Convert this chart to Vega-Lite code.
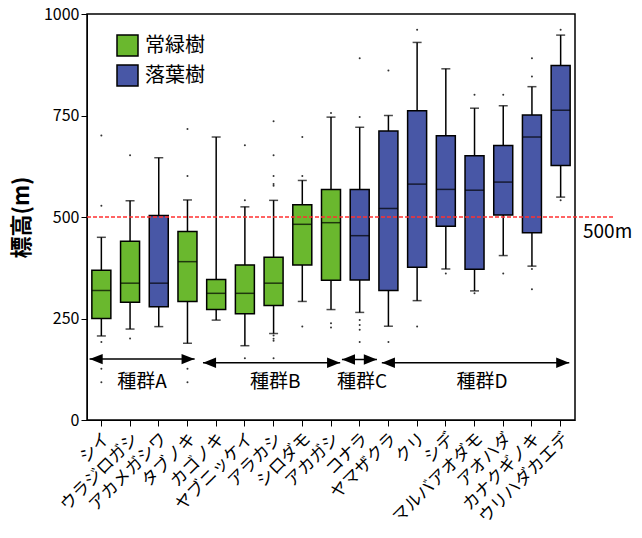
{
  "$schema": "https://vega.github.io/schema/vega-lite/v6.json",
  "autosize": "none",
  "width": 488,
  "height": 406,
  "padding": {"left": 87, "top": 14, "right": 67, "bottom": 118},
  "config": {
    "font": "Noto Sans CJK JP",
    "view": {"stroke": "black", "strokeWidth": 1.5},
    "axis": {"labelColor": "black", "titleColor": "black", "domainColor": "black", "tickColor": "black", "grid": false}
  },
  "datasets": {
    "stats": [
      {"species": "シイ", "type": "常緑樹", "lower": 207, "q1": 250, "median": 319, "q3": 369, "upper": 450},
      {"species": "ウラジロガシ", "type": "常緑樹", "lower": 224, "q1": 290, "median": 337, "q3": 440, "upper": 540},
      {"species": "アカメガシワ", "type": "落葉樹", "lower": 230, "q1": 279, "median": 337, "q3": 504, "upper": 646},
      {"species": "タブノキ", "type": "常緑樹", "lower": 189, "q1": 292, "median": 390, "q3": 464, "upper": 542},
      {"species": "カゴノキ", "type": "常緑樹", "lower": 246, "q1": 272, "median": 312, "q3": 346, "upper": 697},
      {"species": "ヤブニッケイ", "type": "常緑樹", "lower": 183, "q1": 262, "median": 312, "q3": 382, "upper": 525},
      {"species": "アラカシ", "type": "常緑樹", "lower": 213, "q1": 282, "median": 337, "q3": 401, "upper": 541},
      {"species": "シロダモ", "type": "常緑樹", "lower": 292, "q1": 382, "median": 482, "q3": 530, "upper": 590},
      {"species": "アカガシ", "type": "常緑樹", "lower": 272, "q1": 344, "median": 486, "q3": 568, "upper": 746},
      {"species": "コナラ", "type": "落葉樹", "lower": 265, "q1": 345, "median": 454, "q3": 568, "upper": 721},
      {"species": "ヤマザクラ", "type": "落葉樹", "lower": 231, "q1": 319, "median": 521, "q3": 712, "upper": 750},
      {"species": "クリ", "type": "落葉樹", "lower": 294, "q1": 376, "median": 581, "q3": 762, "upper": 930},
      {"species": "シデ", "type": "落葉樹", "lower": 372, "q1": 477, "median": 568, "q3": 700, "upper": 865},
      {"species": "マルバアオダモ", "type": "落葉樹", "lower": 318, "q1": 371, "median": 566, "q3": 651, "upper": 768},
      {"species": "アオハダ", "type": "落葉樹", "lower": 405, "q1": 505, "median": 586, "q3": 676, "upper": 774},
      {"species": "カナクギノキ", "type": "落葉樹", "lower": 379, "q1": 461, "median": 697, "q3": 751, "upper": 821},
      {"species": "ウリハダカエデ", "type": "落葉樹", "lower": 549, "q1": 627, "median": 763, "q3": 873, "upper": 948}
    ],
    "outliers": [
      {"species": "シイ", "value": 701}, {"species": "シイ", "value": 528}, {"species": "シイ", "value": 192}, {"species": "シイ", "value": 126}, {"species": "シイ", "value": 93},
      {"species": "ウラジロガシ", "value": 652}, {"species": "ウラジロガシ", "value": 201},
      {"species": "タブノキ", "value": 717}, {"species": "タブノキ", "value": 601}, {"species": "タブノキ", "value": 126}, {"species": "タブノキ", "value": 93},
      {"species": "ヤブニッケイ", "value": 677}, {"species": "ヤブニッケイ", "value": 541}, {"species": "ヤブニッケイ", "value": 152},
      {"species": "アラカシ", "value": 736}, {"species": "アラカシ", "value": 652}, {"species": "アラカシ", "value": 601}, {"species": "アラカシ", "value": 581}, {"species": "アラカシ", "value": 577}, {"species": "アラカシ", "value": 208}, {"species": "アラカシ", "value": 200}, {"species": "アラカシ", "value": 195}, {"species": "アラカシ", "value": 152},
      {"species": "シロダモ", "value": 697}, {"species": "シロダモ", "value": 601}, {"species": "シロダモ", "value": 230},
      {"species": "アカガシ", "value": 756}, {"species": "アカガシ", "value": 238}, {"species": "アカガシ", "value": 228},
      {"species": "コナラ", "value": 891}, {"species": "コナラ", "value": 746}, {"species": "コナラ", "value": 246}, {"species": "コナラ", "value": 234}, {"species": "コナラ", "value": 222}, {"species": "コナラ", "value": 192},
      {"species": "ヤマザクラ", "value": 861}, {"species": "ヤマザクラ", "value": 192},
      {"species": "クリ", "value": 961}, {"species": "クリ", "value": 230},
      {"species": "シデ", "value": 361},
      {"species": "マルバアオダモ", "value": 801}, {"species": "マルバアオダモ", "value": 312},
      {"species": "アオハダ", "value": 801}, {"species": "アオハダ", "value": 361},
      {"species": "カナクギノキ", "value": 891}, {"species": "カナクギノキ", "value": 846}, {"species": "カナクギノキ", "value": 372}, {"species": "カナクギノキ", "value": 322},
      {"species": "ウリハダカエデ", "value": 961}, {"species": "ウリハダカエデ", "value": 541}
    ],
    "groups": [
      {"label": "種群A", "x1": -0.41, "x2": 3.25, "h1": -0.18, "h2": 3.02, "y": 150, "xc": 1.42, "ty": 93},
      {"label": "種群B", "x1": 3.54, "x2": 8.32, "h1": 3.77, "h2": 8.09, "y": 141, "xc": 6.06, "ty": 93},
      {"label": "種群C", "x1": 8.38, "x2": 9.6, "h1": 8.61, "h2": 9.37, "y": 149, "xc": 9.08, "ty": 93},
      {"label": "種群D", "x1": 9.77, "x2": 16.3, "h1": 10.0, "h2": 16.07, "y": 141, "xc": 13.26, "ty": 93}
    ],
    "ref": [
      {"v": 500, "xa": -0.5, "xb": 17.83, "xt": 16.5, "t": "500m"}
    ]
  },
  "resolve": {"scale": {"x": "independent"}, "axis": {"x": "independent"}},
  "layer": [
    {
      "layer": [
        {
          "data": {"name": "stats"},
          "mark": {"type": "rule", "color": "black", "strokeWidth": 1.5},
          "encoding": {
            "x": {
              "field": "species", "type": "nominal", "title": null,
              "scale": {"domain": ["シイ", "ウラジロガシ", "アカメガシワ", "タブノキ", "カゴノキ", "ヤブニッケイ", "アラカシ", "シロダモ", "アカガシ", "コナラ", "ヤマザクラ", "クリ", "シデ", "マルバアオダモ", "アオハダ", "カナクギノキ", "ウリハダカエデ"], "paddingInner": 0.34, "paddingOuter": 0.17},
              "axis": {"labelAngle": -45, "labelFontSize": 17, "tickSize": 6, "labelPadding": 4, "domain": true}
            },
            "y": {"field": "lower", "type": "quantitative", "scale": {"domain": [0, 1000], "nice": false},
              "axis": {"values": [0, 250, 500, 750, 1000], "format": "d", "labelFontSize": 16, "tickSize": 6, "title": "標高(m)", "titleFontSize": 22, "titleFontWeight": "bold", "titlePadding": 10}},
            "y2": {"field": "upper"}
          }
        },
        {
          "data": {"name": "stats"},
          "mark": {"type": "tick", "color": "black", "size": 9, "thickness": 1.5},
          "encoding": {"x": {"field": "species", "type": "nominal"}, "y": {"field": "lower", "type": "quantitative"}}
        },
        {
          "data": {"name": "stats"},
          "mark": {"type": "tick", "color": "black", "size": 9, "thickness": 1.5},
          "encoding": {"x": {"field": "species", "type": "nominal"}, "y": {"field": "upper", "type": "quantitative"}}
        },
        {
          "data": {"name": "stats"},
          "mark": {"type": "bar", "width": 19, "stroke": "black", "strokeWidth": 1.5, "opacity": 1},
          "encoding": {
            "x": {"field": "species", "type": "nominal"},
            "y": {"field": "q1", "type": "quantitative"},
            "y2": {"field": "q3"},
            "color": {"field": "type", "type": "nominal",
              "scale": {"domain": ["常緑樹", "落葉樹"], "range": ["#6AB82E", "#4857A6"]},
              "legend": {"orient": "none", "legendX": 29, "legendY": 20, "title": null, "symbolType": "square", "symbolSize": 441, "symbolStrokeColor": "black", "symbolStrokeWidth": 1.5, "labelFontSize": 20, "rowPadding": 3, "labelOffset": 6, "symbolOpacity": 1}}
          }
        },
        {
          "data": {"name": "stats"},
          "mark": {"type": "tick", "color": "black", "size": 19, "thickness": 1.5},
          "encoding": {"x": {"field": "species", "type": "nominal"}, "y": {"field": "median", "type": "quantitative"}}
        },
        {
          "data": {"name": "outliers"},
          "mark": {"type": "point", "filled": true, "color": "#333333", "size": 4, "opacity": 1},
          "encoding": {"x": {"field": "species", "type": "nominal"}, "y": {"field": "value", "type": "quantitative"}}
        }
      ]
    },
    {
      "layer": [
        {
          "data": {"name": "groups"},
          "mark": {"type": "rule", "color": "black", "strokeWidth": 1.5},
          "encoding": {
            "x": {"field": "x1", "type": "quantitative", "scale": {"domain": [-0.5, 16.5], "nice": false, "zero": false}, "axis": null},
            "x2": {"field": "x2"}, "y": {"field": "y", "type": "quantitative"}}
        },
        {
          "data": {"name": "groups"},
          "mark": {"type": "point", "shape": "M-1,0L1,-0.8L1,0.8Z", "filled": true, "color": "black", "size": 169, "opacity": 1},
          "encoding": {"x": {"field": "h1", "type": "quantitative"}, "y": {"field": "y", "type": "quantitative"}}
        },
        {
          "data": {"name": "groups"},
          "mark": {"type": "point", "shape": "M1,0L-1,-0.8L-1,0.8Z", "filled": true, "color": "black", "size": 169, "opacity": 1},
          "encoding": {"x": {"field": "h2", "type": "quantitative"}, "y": {"field": "y", "type": "quantitative"}}
        },
        {
          "data": {"name": "groups"},
          "mark": {"type": "text", "fontSize": 19, "baseline": "middle", "align": "center"},
          "encoding": {"x": {"field": "xc", "type": "quantitative"}, "y": {"field": "ty", "type": "quantitative"}, "text": {"field": "label"}}
        },
        {
          "data": {"name": "ref"},
          "mark": {"type": "rule", "color": "#FF3030", "strokeDash": [4, 2], "strokeWidth": 1.5},
          "encoding": {"x": {"field": "xa", "type": "quantitative"}, "x2": {"field": "xb"}, "y": {"field": "v", "type": "quantitative"}}
        },
        {
          "data": {"name": "ref"},
          "mark": {"type": "text", "align": "left", "baseline": "middle", "dx": 8, "dy": 15, "fontSize": 19},
          "encoding": {"x": {"field": "xt", "type": "quantitative"}, "y": {"field": "v", "type": "quantitative"}, "text": {"field": "t"}}
        }
      ]
    }
  ]
}
